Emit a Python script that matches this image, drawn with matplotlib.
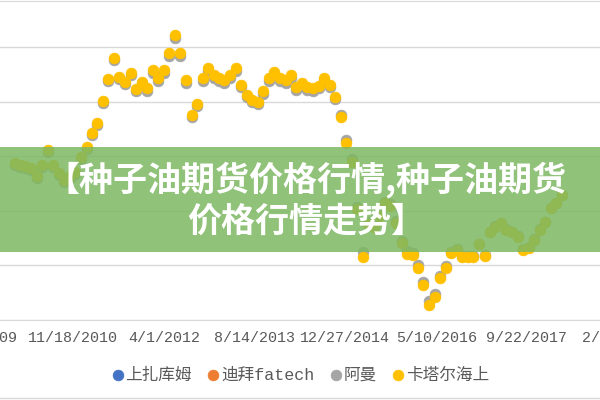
import datetime as dt
import pandas as pd
import matplotlib

matplotlib.use('Agg')
import matplotlib.pyplot as plt
import matplotlib.dates as mdates
from matplotlib.patches import Rectangle
from matplotlib.lines import Line2D
from matplotlib.ticker import FuncFormatter

# Series names (legend order)
series_names = ["上扎库姆", "迪拜fatech", "阿曼", "卡塔尔海上"]

# monthly points
start_month = "2010-01-01"

# 上扎库姆 / 迪拜fatech : no visible points in the picture
upper_zakum = []
dubai = []

oman = [76.8, 76.0, 75.6, 75.0, 72.0, 76.0, 81.6, 76.0, 73.0, 70.6,
        72.0, 73.5, 79.0, 82.6, 87.8, 91.5, 99.5, 107.5, 115.3, 108.2,
        106.4, 109.7, 103.8, 106.3, 104.0, 110.5, 107.5, 110.6, 116.8, 123.2,
        116.8, 106.9, 94.4, 98.3, 107.6, 111.3, 108.7, 107.5, 106.8, 108.7,
        111.3, 105.2, 101.5, 99.7, 99.0, 102.7, 107.4, 109.8, 107.4, 106.8,
        108.6, 104.3, 105.8, 104.3, 104.0, 104.8, 107.6, 105.2, 100.9, 95.0,
        86.0, 78.8, 61.4, 45.0, 55.8, 54.6, 58.6, 63.3, 62.3, 56.2,
        49.0, 45.2, 44.6, 40.0, 34.0, 26.8, 29.5, 36.0, 39.6, 45.0,
        46.0, 43.6, 43.6, 43.4, 48.0, 43.8, 52.4, 54.3, 55.6, 53.2,
        52.4, 50.6, 45.9, 46.6, 49.5, 53.2, 56.0, 61.1, 63.0, 65.9]

qatar = [77.5, 76.8, 76.4, 75.7, 72.7, 76.8, 82.3, 76.8, 73.8, 71.3,
         72.7, 74.2, 79.7, 83.4, 88.5, 92.2, 100.2, 108.3, 116.0, 109.0,
         107.2, 110.5, 104.6, 107.2, 105.0, 111.6, 108.6, 111.6, 117.8, 124.4,
         117.8, 107.9, 95.1, 99.1, 108.6, 112.3, 109.7, 108.6, 107.9, 109.7,
         112.3, 106.1, 102.4, 100.6, 99.9, 103.9, 108.6, 110.8, 108.6, 107.9,
         109.7, 105.3, 106.8, 105.3, 105.0, 105.7, 108.6, 106.1, 101.7, 94.4,
         84.8, 77.9, 60.7, 43.1, 55.2, 54.1, 58.1, 62.9, 61.8, 55.5,
         48.2, 44.2, 43.8, 39.0, 32.8, 25.5, 28.4, 35.4, 39.0, 44.5,
         45.6, 43.1, 43.1, 43.1, 47.8, 43.4, 52.2, 54.1, 55.5, 53.0,
         52.2, 50.4, 45.6, 46.4, 49.3, 53.0, 55.9, 61.0, 62.9, 65.8]

# x tick dates (every 500 days)
tick_dates = ["2009-07-06", "2010-11-18", "2012-04-01", "2013-08-14",
              "2014-12-27", "2016-05-10", "2017-09-22", "2019-02-04"]
y_ticks = [20, 40, 60, 80, 100, 120]

banner_lines = ["【种子油期货价格行情,种子油期货", "价格行情走势】"]

colors = ["#4472C4", "#ED7D31", "#A5A5A5", "#FFC000"]
text_color = "#595959"
grid_color = "#D9D9D9"

months = pd.date_range(start_month, periods=len(qatar), freq="MS")

fig = plt.figure(figsize=(6, 4), dpi=100)
# the plot area is wider than the picture (it was cropped left and right)
ax = fig.add_axes([-0.1, 0.2, 1.2, 0.7975])

base = dt.datetime(2010, 11, 18)
ax.set_xlim(base + dt.timedelta(days=-732.4), base + dt.timedelta(days=3232.4))
ax.set_ylim(20, 136.8)

all_series = [upper_zakum, dubai, oman, qatar]
for name, vals, c in zip(series_names, all_series, colors):
    ax.scatter(months[:len(vals)], vals, s=60, color=c, edgecolors=c,
               linewidths=0.5, label=name, zorder=3)

# grid and axis
ax.set_yticks(y_ticks)
ax.yaxis.grid(True, color=grid_color, linewidth=1)
ax.set_axisbelow(True)
ax.tick_params(axis="y", length=0, labelleft=False)
for side in ["left", "right"]:
    ax.spines[side].set_visible(False)
ax.spines["bottom"].set_color(grid_color)
ax.spines["top"].set_color(grid_color)

ax.set_xticks([mdates.date2num(pd.Timestamp(d)) for d in tick_dates])
ax.xaxis.set_major_formatter(FuncFormatter(
    lambda v, pos: "%d/%d/%d" % (mdates.num2date(v).month, mdates.num2date(v).day, mdates.num2date(v).year)))
ax.tick_params(axis="x", length=0, pad=8, labelsize=10.8, labelcolor=text_color)
for lbl in ax.get_xticklabels():
    lbl.set_family("Liberation Mono")

# legend at the bottom
leg = fig.legend(loc="center", bbox_to_anchor=(0.5, 0.0625), ncol=4, frameon=False,
                 handletextpad=0.05, columnspacing=0.9, handlelength=0.8,
                 prop={"family": ["Liberation Mono", "Noto Sans CJK SC"], "size": 12})
for t in leg.get_texts():
    t.set_color(text_color)

# outer border line at the bottom
fig.add_artist(Line2D([0, 1], [0.005, 0.005], color=grid_color, linewidth=1))

# green banner with the title
fig.add_artist(Rectangle((0, 0.37), 1, 0.2625, transform=fig.transFigure,
                         facecolor="#7DB862", alpha=0.85, edgecolor="none", zorder=10))
fig.text(0.51, 1 - 180 / 400, banner_lines[0], ha="center", va="center", color="white",
         fontsize=24.5, fontweight="heavy", family=["Noto Sans CJK SC", "DejaVu Sans"], zorder=11)
fig.text(0.51, 1 - 221 / 400, banner_lines[1], ha="center", va="center", color="white",
         fontsize=24.5, fontweight="heavy", family=["Noto Sans CJK SC", "DejaVu Sans"], zorder=11)

plt.savefig("out.png", dpi=100)
